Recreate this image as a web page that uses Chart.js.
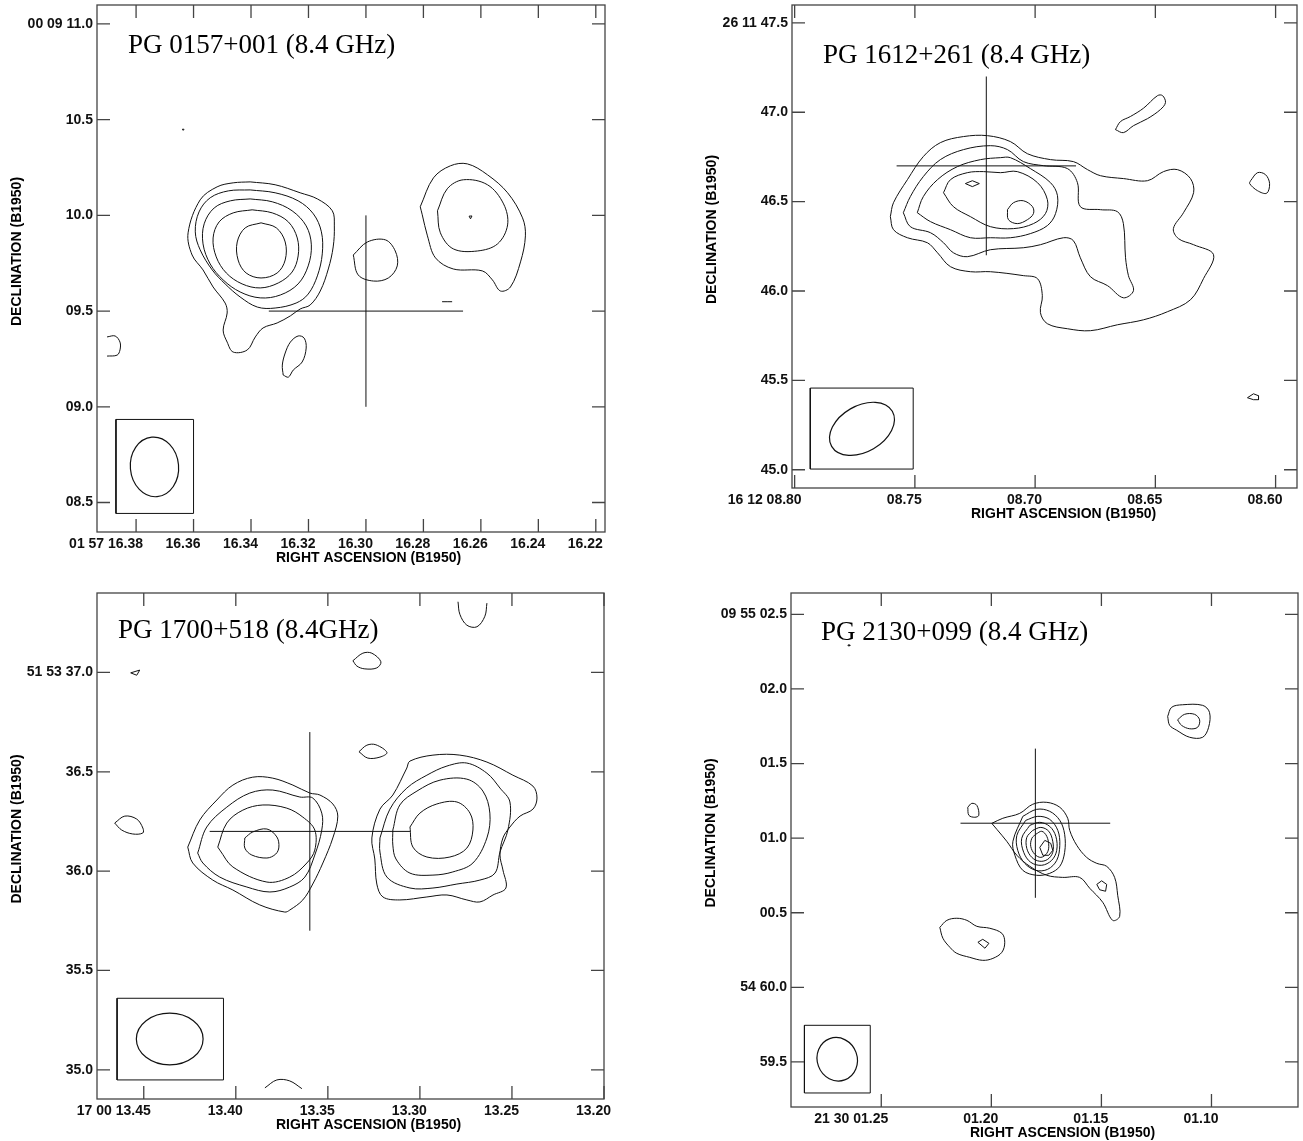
<!DOCTYPE html>
<html>
<head>
<meta charset="utf-8">
<script src="https://cdn.jsdelivr.net/npm/chart.js@4.4.0/dist/chart.umd.min.js"></script>
<style>
  html, body { margin: 0; padding: 0; background: #fff; }
  #wrap { position: relative; width: 1303px; height: 1141px; }
  canvas { position: absolute; }
</style>
</head>
<body>
<div id="wrap">
  <canvas id="c1" width="651" height="570" style="left:0px;top:0px"></canvas>
  <canvas id="c2" width="652" height="570" style="left:651px;top:0px"></canvas>
  <canvas id="c3" width="651" height="571" style="left:0px;top:570px"></canvas>
  <canvas id="c4" width="652" height="571" style="left:651px;top:570px"></canvas>
</div>
<script>
// ---------- PG 0157+001 : RA seconds (01 57 xx) / Dec arcsec (00 09 xx) ----------
const p1XTicks = [16.38, 16.36, 16.34, 16.32, 16.30, 16.28, 16.26, 16.24, 16.22];
const p1XLabels = ["01 57 16.38", "16.36", "16.34", "16.32", "16.30", "16.28", "16.26", "16.24", "16.22"];
const p1YTicks = [11.0, 10.5, 10.0, 9.5, 9.0, 8.5];
const p1YLabels = ["00 09 11.0", "10.5", "10.0", "09.5", "09.0", "08.5"];
const p1Contours = [
  [[16.3403,10.175],[16.3316,10.160],[16.3229,10.118],[16.3169,10.086],[16.3117,10.024],[16.3110,9.945],[16.3114,9.835],[16.3131,9.720],[16.3159,9.605],[16.3194,9.532],[16.3229,9.511],[16.3263,9.475],[16.3309,9.438],[16.3358,9.412],[16.3385,9.365],[16.3413,9.297],[16.3462,9.286],[16.3483,9.338],[16.3497,9.401],[16.3483,9.490],[16.3490,9.542],[16.3532,9.626],[16.3567,9.715],[16.3605,9.793],[16.3619,9.909],[16.3577,10.081],[16.3518,10.149],[16.3462,10.170]],
  [[16.3403,10.133],[16.3316,10.118],[16.3236,10.076],[16.3183,10.008],[16.3155,9.914],[16.3152,9.799],[16.3169,9.684],[16.3201,9.589],[16.3243,9.542],[16.3316,9.516],[16.3378,9.521],[16.3438,9.574],[16.3490,9.642],[16.3535,9.715],[16.3577,9.820],[16.3594,9.914],[16.3581,10.018],[16.3542,10.092],[16.3479,10.128]],
  [[16.3403,10.086],[16.3326,10.071],[16.3257,10.024],[16.3208,9.945],[16.3190,9.846],[16.3201,9.736],[16.3236,9.642],[16.3298,9.584],[16.3368,9.569],[16.3438,9.600],[16.3497,9.663],[16.3542,9.746],[16.3567,9.851],[16.3563,9.956],[16.3528,10.039],[16.3472,10.076]],
  [[16.3396,10.029],[16.3326,10.013],[16.3270,9.966],[16.3239,9.882],[16.3236,9.788],[16.3257,9.704],[16.3305,9.647],[16.3368,9.621],[16.3431,9.642],[16.3486,9.699],[16.3521,9.783],[16.3532,9.882],[16.3511,9.966],[16.3462,10.013]],
  [[16.3365,9.961],[16.3312,9.935],[16.3281,9.861],[16.3281,9.767],[16.3309,9.699],[16.3365,9.673],[16.3417,9.699],[16.3445,9.767],[16.3448,9.861],[16.3420,9.935]],
  [[16.2811,10.045],[16.2765,10.196],[16.2706,10.259],[16.2647,10.269],[16.2577,10.212],[16.2507,10.118],[16.2455,9.987],[16.2445,9.893],[16.2462,9.757],[16.2497,9.626],[16.2532,9.605],[16.2560,9.663],[16.2595,9.710],[16.2696,9.720],[16.2758,9.778],[16.2786,9.893],[16.2804,10.003]],
  [[16.2751,10.024],[16.2717,10.139],[16.2661,10.186],[16.2577,10.160],[16.2521,10.060],[16.2507,9.950],[16.2542,9.851],[16.2612,9.814],[16.2696,9.825],[16.2741,9.909]],
  [[16.3044,9.793],[16.2995,9.861],[16.2932,9.872],[16.2898,9.814],[16.2891,9.736],[16.2922,9.673],[16.2974,9.657],[16.3027,9.689]],
  [[16.3288,9.166],[16.3291,9.218],[16.3281,9.281],[16.3263,9.338],[16.3236,9.370],[16.3215,9.359],[16.3208,9.307],[16.3222,9.234],[16.3253,9.192],[16.3270,9.155]]
];
const p1Specks = [
  [[16.2641,9.996],[16.2631,9.997],[16.2636,9.982]],
  [[16.3639,10.450],[16.3633,10.450],[16.3636,10.444]]
];
const p1Open = [
  [[16.3901,9.365],[16.3873,9.370],[16.3856,9.338],[16.3856,9.297],[16.3866,9.270],[16.3901,9.265]],
  [[16.2735,9.549],[16.2700,9.549]]
];
const p1Optical = [16.300, 9.50];
const p1CrossHalf = [0.0338, 0.5];
const p1Beam = [16.3736, 8.686, 0.156, 0.126, 5];
const p1BeamBox = [16.3870, 16.3600, 8.443, 8.934];

// ---------- PG 1612+261 : RA (16 12 xx) / Dec (26 11 xx) ----------
const p2XTicks = [8.80, 8.75, 8.70, 8.65, 8.60];
const p2XLabels = ["16 12 08.80", "08.75", "08.70", "08.65", "08.60"];
const p2YTicks = [47.5, 47.0, 46.5, 46.0, 45.5, 45.0];
const p2YLabels = ["26 11 47.5", "47.0", "46.5", "46.0", "45.5", "45.0"];
const p2Contours = [
  [[8.7602,46.416],[8.7589,46.494],[8.7531,46.623],[8.7465,46.752],[8.7394,46.830],[8.7298,46.864],[8.7198,46.869],[8.7103,46.836],[8.7032,46.768],[8.6936,46.735],[8.6841,46.724],[8.6782,46.679],[8.6728,46.645],[8.6633,46.629],[8.6533,46.617],[8.6466,46.668],[8.6408,46.679],[8.6354,46.629],[8.6341,46.550],[8.6383,46.438],[8.6425,46.349],[8.6404,46.293],[8.6341,46.259],[8.6258,46.203],[8.6300,46.069],[8.6354,45.951],[8.6450,45.884],[8.6549,45.839],[8.6658,45.811],[8.6770,45.778],[8.6866,45.789],[8.6949,45.817],[8.6978,45.879],[8.6970,45.974],[8.6990,46.069],[8.7049,46.086],[8.7186,46.108],[8.7269,46.108],[8.7352,46.136],[8.7406,46.214],[8.7448,46.270],[8.7531,46.298],[8.7589,46.343]],
  [[8.7548,46.438],[8.7519,46.528],[8.7465,46.640],[8.7394,46.735],[8.7298,46.791],[8.7186,46.813],[8.7115,46.791],[8.7049,46.724],[8.6965,46.701],[8.6866,46.685],[8.6824,46.606],[8.6812,46.472],[8.6728,46.455],[8.6658,46.444],[8.6633,46.377],[8.6624,46.186],[8.6612,46.086],[8.6591,46.002],[8.6633,45.962],[8.6699,46.030],[8.6770,46.080],[8.6812,46.186],[8.6841,46.282],[8.6882,46.298],[8.6978,46.259],[8.7049,46.242],[8.7186,46.231],[8.7282,46.192],[8.7340,46.214],[8.7381,46.270],[8.7435,46.326],[8.7519,46.360]],
  [[8.7490,46.438],[8.7465,46.528],[8.7406,46.623],[8.7323,46.696],[8.7227,46.735],[8.7144,46.746],[8.7103,46.746],[8.7020,46.685],[8.6936,46.606],[8.6907,46.533],[8.6915,46.433],[8.6949,46.366],[8.7020,46.321],[8.7103,46.298],[8.7186,46.298],[8.7269,46.298],[8.7352,46.343],[8.7435,46.388]],
  [[8.7381,46.550],[8.7352,46.623],[8.7282,46.662],[8.7215,46.668],[8.7144,46.662],[8.7074,46.668],[8.6990,46.606],[8.6949,46.511],[8.6957,46.433],[8.7007,46.377],[8.7090,46.349],[8.7186,46.360],[8.7269,46.416],[8.7340,46.472]],
  [[8.7115,46.455],[8.7090,46.494],[8.7049,46.505],[8.7011,46.472],[8.7007,46.433],[8.7032,46.399],[8.7074,46.377],[8.7111,46.399]],
  [[8.6666,46.903],[8.6645,46.948],[8.6604,46.976],[8.6549,47.023],[8.6491,47.093],[8.6470,47.093],[8.6458,47.054],[8.6479,47.015],[8.6533,46.964],[8.6591,46.925],[8.6633,46.886]],
  [[8.6104,46.617],[8.6075,46.662],[8.6042,46.651],[8.6025,46.601],[8.6037,46.547],[8.6075,46.561],[8.6108,46.601]]
];
const p2Specks = [
  [[8.7290,46.601],[8.7261,46.617],[8.7232,46.601],[8.7261,46.584]],
  [[8.6117,45.403],[8.6092,45.425],[8.6071,45.414],[8.6071,45.392],[8.6092,45.392]]
];
const p2Open = [];
const p2Optical = [8.7203, 46.70];
const p2CrossHalf = [0.0373, 0.5];
const p2Beam = [8.7720, 45.229, 0.196, 0.129, -60];
const p2BeamBox = [8.7935, 8.7507, 45.004, 45.457];

// ---------- PG 1700+518 : RA (17 00 xx) / Dec (51 53 xx) ----------
const p3XTicks = [13.45, 13.40, 13.35, 13.30, 13.25, 13.20];
const p3XLabels = ["17 00 13.45", "13.40", "13.35", "13.30", "13.25", "13.20"];
const p3YTicks = [37.0, 36.5, 36.0, 35.5, 35.0];
const p3YLabels = ["51 53 37.0", "36.5", "36.0", "35.5", "35.0"];
const p3Contours = [
  [[13.4261,36.121],[13.4196,36.257],[13.4103,36.358],[13.4016,36.433],[13.3908,36.473],[13.3799,36.468],[13.3690,36.433],[13.3598,36.393],[13.3543,36.383],[13.3473,36.338],[13.3446,36.277],[13.3473,36.167],[13.3527,36.041],[13.3582,35.935],[13.3636,35.855],[13.3707,35.804],[13.3734,35.794],[13.3870,35.830],[13.4016,35.905],[13.4125,35.955],[13.4234,36.041]],
  [[13.4207,36.091],[13.4158,36.222],[13.4049,36.322],[13.3924,36.393],[13.3799,36.408],[13.3652,36.373],[13.3582,36.368],[13.3533,36.292],[13.3533,36.207],[13.3571,36.081],[13.3625,35.970],[13.3707,35.920],[13.3815,35.895],[13.3940,35.920],[13.4087,35.970],[13.4179,36.041]],
  [[13.4098,36.121],[13.4049,36.242],[13.3962,36.307],[13.3853,36.333],[13.3723,36.317],[13.3636,36.272],[13.3571,36.207],[13.3571,36.106],[13.3614,36.041],[13.3707,35.970],[13.3831,35.945],[13.4016,36.021],[13.4087,36.106]],
  [[13.3951,36.167],[13.3908,36.197],[13.3831,36.212],[13.3777,36.172],[13.3766,36.121],[13.3783,36.086],[13.3831,36.066],[13.3913,36.081],[13.3951,36.116]],
  [[13.3071,36.519],[13.3054,36.554],[13.2929,36.584],[13.2783,36.584],[13.2636,36.549],[13.2495,36.483],[13.2386,36.428],[13.2364,36.368],[13.2386,36.312],[13.2456,36.277],[13.2511,36.222],[13.2549,36.167],[13.2565,36.081],[13.2549,36.006],[13.2533,35.915],[13.2603,35.880],[13.2674,35.845],[13.2745,35.855],[13.2853,35.880],[13.2962,35.870],[13.3109,35.855],[13.3201,35.870],[13.3234,35.935],[13.3245,36.061],[13.3261,36.167],[13.3217,36.312],[13.3147,36.383]],
  [[13.3217,36.167],[13.3163,36.312],[13.3071,36.418],[13.2962,36.483],[13.2853,36.529],[13.2745,36.544],[13.2636,36.493],[13.2565,36.418],[13.2511,36.348],[13.2522,36.207],[13.2565,36.096],[13.2592,35.990],[13.2674,35.955],[13.2799,35.935],[13.2929,35.915],[13.3054,35.915],[13.3179,35.970],[13.3217,36.096]],
  [[13.3147,36.207],[13.3109,36.333],[13.3016,36.403],[13.2891,36.458],[13.2745,36.463],[13.2658,36.403],[13.2620,36.292],[13.2636,36.167],[13.2712,36.041],[13.2821,35.996],[13.2929,35.980],[13.3054,35.990],[13.3130,36.061],[13.3147,36.131]],
  [[13.3054,36.222],[13.3000,36.292],[13.2908,36.338],[13.2799,36.348],[13.2728,36.292],[13.2712,36.207],[13.2745,36.116],[13.2837,36.071],[13.2962,36.071],[13.3038,36.121]],
  [[13.3364,37.059],[13.3310,37.097],[13.3261,37.097],[13.3212,37.054],[13.3234,37.023],[13.3299,37.018],[13.3342,37.032]],
  [[13.3331,36.601],[13.3288,36.634],[13.3239,36.636],[13.3179,36.597],[13.3217,36.574],[13.3283,36.569]],
  [[13.4658,36.242],[13.4603,36.277],[13.4538,36.262],[13.4505,36.217],[13.4505,36.192],[13.4560,36.187],[13.4620,36.207]]
];
const p3Specks = [
  [[13.4522,37.012],[13.4571,36.998],[13.4538,36.986]]
];
const p3Open = [
  [[13.2793,37.356],[13.2783,37.293],[13.2745,37.238],[13.2690,37.230],[13.2647,37.283],[13.2636,37.349]],
  [[13.3842,34.909],[13.3777,34.949],[13.3707,34.944],[13.3641,34.905]]
];
const p3Optical = [13.3598, 36.20];
const p3CrossHalf = [0.0544, 0.5];
const p3Beam = [13.4359, 35.155, 0.168, 0.130, 90];
const p3BeamBox = [13.4645, 13.4067, 34.949, 35.360];

// ---------- PG 2130+099 : RA (21 30 xx) / Dec arcsec relative to 09 55 00 ----------
const p4XTicks = [1.25, 1.20, 1.15, 1.10];
const p4XLabels = ["21 30 01.25", "01.20", "01.15", "01.10"];
const p4YTicks = [2.5, 2.0, 1.5, 1.0, 0.5, 0.0, -0.5];
const p4YLabels = ["09 55 02.5", "02.0", "01.5", "01.0", "00.5", "54 60.0", "59.5"];
const p4Contours = [
  [[1.1998,1.099],[1.1948,1.133],[1.1871,1.166],[1.1812,1.227],[1.1748,1.240],[1.1689,1.207],[1.1653,1.133],[1.1644,1.052],[1.1612,0.952],[1.1567,0.871],[1.1521,0.831],[1.1476,0.811],[1.1440,0.737],[1.1426,0.617],[1.1417,0.476],[1.1449,0.449],[1.1494,0.570],[1.1553,0.664],[1.1599,0.737],[1.1676,0.737],[1.1748,0.751],[1.1825,0.811],[1.1884,0.885],[1.1930,0.979],[1.1975,1.059]],
  [[1.1857,1.146],[1.1794,1.193],[1.1735,1.180],[1.1689,1.119],[1.1667,1.026],[1.1667,0.905],[1.1689,0.811],[1.1735,0.764],[1.1794,0.751],[1.1857,0.784],[1.1893,0.885],[1.1902,0.979]],
  [[1.1844,1.119],[1.1789,1.146],[1.1735,1.126],[1.1698,1.052],[1.1689,0.952],[1.1703,0.851],[1.1744,0.791],[1.1798,0.784],[1.1848,0.831],[1.1880,0.918],[1.1884,1.019]],
  [[1.1825,1.086],[1.1780,1.106],[1.1735,1.079],[1.1707,1.012],[1.1703,0.918],[1.1726,0.851],[1.1771,0.818],[1.1821,0.838],[1.1853,0.905],[1.1862,0.999]],
  [[1.1812,1.052],[1.1775,1.072],[1.1739,1.046],[1.1721,0.979],[1.1721,0.905],[1.1744,0.858],[1.1780,0.845],[1.1816,0.871],[1.1839,0.932],[1.1839,1.005]],
  [[1.1798,1.026],[1.1771,1.046],[1.1748,1.012],[1.1739,0.945],[1.1748,0.898],[1.1775,0.871],[1.1803,0.892],[1.1821,0.945],[1.1816,0.999]],
  [[1.1199,1.816],[1.1181,1.877],[1.1131,1.894],[1.1040,1.890],[1.1009,1.843],[1.1013,1.743],[1.1040,1.676],[1.1099,1.676],[1.1158,1.723],[1.1190,1.756]],
  [[1.1154,1.793],[1.1122,1.830],[1.1077,1.830],[1.1054,1.793],[1.1063,1.743],[1.1099,1.733],[1.1136,1.756]],
  [[1.2234,0.402],[1.2202,0.449],[1.2157,0.463],[1.2111,0.449],[1.2066,0.409],[1.2007,0.396],[1.1952,0.362],[1.1939,0.302],[1.1952,0.235],[1.1993,0.194],[1.2039,0.181],[1.2098,0.201],[1.2157,0.228],[1.2188,0.268],[1.2220,0.329]],
  [[1.2107,1.207],[1.2089,1.233],[1.2066,1.220],[1.2057,1.153],[1.2075,1.140],[1.2102,1.153]]
];
const p4Specks = [
  [[1.1757,0.985],[1.1730,0.965],[1.1721,0.918],[1.1739,0.885],[1.1766,0.885],[1.1780,0.938]],
  [[1.2061,0.302],[1.2039,0.322],[1.2011,0.295],[1.2029,0.262]],
  [[1.1521,0.690],[1.1499,0.714],[1.1476,0.690],[1.1481,0.644],[1.1508,0.654]],
  [[1.2651,2.295],[1.2643,2.295],[1.2643,2.289],[1.2651,2.289]]
];
const p4Open = [];
const p4Optical = [1.1800, 1.10];
const p4CrossHalf = [0.0340, 0.5];
const p4Beam = [1.2700, -0.482, 0.147, 0.134, 20];
const p4BeamBox = [1.2849, 1.2550, -0.708, -0.2545];

// ---------- drawing ----------
const SANS = '"Liberation Sans", Arial, Helvetica, sans-serif';
const SERIF = '"Liberation Serif", "Times New Roman", Times, serif';
Chart.defaults.font.family = SANS;

function toPts(arr, close) {
  const d = arr.map(p => ({ x: p[0], y: p[1] }));
  if (close) d.push({ x: arr[0][0], y: arr[0][1] });
  return d;
}

function lineSet(pts, tension) {
  return {
    data: pts, showLine: true, pointRadius: 0, borderColor: "#111",
    borderWidth: 1, tension: tension, fill: false
  };
}

function makePanel(id, p) {
  const canvas = document.getElementById(id);
  const W = canvas.width, H = canvas.height;
  const datasets = [];
  p.contours.forEach(c => datasets.push(lineSet(toPts(c, true), 0.35)));
  p.specks.forEach(c => datasets.push(lineSet(toPts(c, true), 0)));
  p.open.forEach(c => datasets.push(lineSet(toPts(c, false), 0.35)));
  // optical position cross
  const o = p.optical, h = p.cross;
  datasets.push(lineSet(toPts([[o[0], o[1] - h[1]], [o[0], o[1] + h[1]]], false), 0));
  datasets.push(lineSet(toPts([[o[0] + h[0], o[1]], [o[0] - h[0], o[1]]], false), 0));
  // beam box
  const b = p.beamBox;
  datasets.push(lineSet(toPts([[b[0], b[2]], [b[1], b[2]], [b[1], b[3]], [b[0], b[3]]], true), 0));

  const decor = {
    id: "decor" + id,
    afterDatasetsDraw(chart) {
      const ctx = chart.ctx, xs = chart.scales.x, ys = chart.scales.y;
      const bm = p.beam;
      const cx = xs.getPixelForValue(bm[0]), cy = ys.getPixelForValue(bm[1]);
      const ppa = Math.abs(ys.getPixelForValue(bm[1] + 1) - cy);
      const pa = bm[4] * Math.PI / 180;
      ctx.save();
      ctx.strokeStyle = "#111";
      ctx.lineWidth = 1.2;
      ctx.beginPath();
      ctx.ellipse(cx, cy, bm[2] * ppa, bm[3] * ppa, Math.atan2(-Math.cos(pa), -Math.sin(pa)), 0, 2 * Math.PI);
      ctx.stroke();
      ctx.restore();
    },
    afterDraw(chart) {
      const ctx = chart.ctx, a = chart.chartArea;
      const xs = chart.scales.x, ys = chart.scales.y;
      ctx.save();
      ctx.strokeStyle = "#444";
      ctx.lineWidth = 1.3;
      ctx.strokeRect(a.left, a.top, a.right - a.left, a.bottom - a.top);
      ctx.beginPath();
      xs.ticks.forEach(t => {
        const x = xs.getPixelForValue(t.value);
        ctx.moveTo(x, a.bottom); ctx.lineTo(x, a.bottom - 13);
        ctx.moveTo(x, a.top); ctx.lineTo(x, a.top + 13);
      });
      ys.ticks.forEach(t => {
        const y = ys.getPixelForValue(t.value);
        ctx.moveTo(a.left, y); ctx.lineTo(a.left + 13, y);
        ctx.moveTo(a.right, y); ctx.lineTo(a.right - 13, y);
      });
      ctx.stroke();

      ctx.fillStyle = "#000";
      ctx.font = "27px " + SERIF;
      ctx.textAlign = "left";
      ctx.textBaseline = "alphabetic";
      ctx.fillText(p.title, p.titleAt[0], p.titleAt[1]);

      ctx.font = "bold 14px " + SANS;
      ctx.textBaseline = "middle";
      ctx.fillText("RIGHT ASCENSION (B1950)", a.left + 179, a.bottom + 26);
      ctx.translate(a.left - 80, (a.top + a.bottom) / 2 - 17);
      ctx.rotate(-Math.PI / 2);
      ctx.textAlign = "center";
      ctx.fillText("DECLINATION (B1950)", 0, 0);
      ctx.restore();
    }
  };

  const tickFont = { family: SANS, size: 14, weight: "bold" };
  new Chart(canvas, {
    type: "scatter",
    data: { datasets },
    options: {
      responsive: false,
      animation: false,
      events: [],
      layout: { autoPadding: false, padding: { left: 0, top: p.area[1], right: W - p.area[2], bottom: 0 } },
      plugins: { legend: { display: false }, tooltip: { enabled: false } },
      scales: {
        x: {
          type: "linear", reverse: true, bounds: "data",
          min: p.xRange[0], max: p.xRange[1],
          grid: { display: false, drawTicks: false }, border: { display: false },
          afterBuildTicks: s => { s.ticks = p.xTicks.map(v => ({ value: v })); },
          afterFit: s => { s.height = H - p.area[3]; s.paddingLeft = 0; s.paddingRight = 0; },
          ticks: {
            autoSkip: false, maxRotation: 0, align: "end", labelOffset: 7, padding: 4,
            color: "#111", font: tickFont,
            callback: (v, i) => p.xLabels[i]
          }
        },
        y: {
          type: "linear", bounds: "data",
          min: p.yRange[0], max: p.yRange[1],
          grid: { display: false, drawTicks: false }, border: { display: false },
          afterBuildTicks: s => { s.ticks = p.yTicks.map(v => ({ value: v })); },
          afterFit: s => { s.width = p.area[0]; s.paddingTop = 0; s.paddingBottom = 0; },
          ticks: {
            autoSkip: false, padding: 4, color: "#111", font: tickFont,
            callback: (v, i) => p.yLabels[i]
          }
        }
      }
    },
    plugins: [decor]
  });
}

makePanel("c1", {
  area: [97, 5, 605, 532], xRange: [16.2168, 16.3936], yRange: [8.346, 11.099],
  xTicks: p1XTicks, xLabels: p1XLabels, yTicks: p1YTicks, yLabels: p1YLabels,
  contours: p1Contours, specks: p1Specks, open: p1Open,
  optical: p1Optical, cross: p1CrossHalf, beam: p1Beam, beamBox: p1BeamBox,
  title: "PG 0157+001 (8.4 GHz)", titleAt: [128, 53]
});
makePanel("c2", {
  area: [141, 5, 646, 488], xRange: [8.5911, 8.8011], yRange: [44.898, 47.600],
  xTicks: p2XTicks, xLabels: p2XLabels, yTicks: p2YTicks, yLabels: p2YLabels,
  contours: p2Contours, specks: p2Specks, open: p2Open,
  optical: p2Optical, cross: p2CrossHalf, beam: p2Beam, beamBox: p2BeamBox,
  title: "PG 1612+261 (8.4 GHz)", titleAt: [172, 63]
});
makePanel("c3", {
  area: [97, 23, 604, 529], xRange: [13.20, 13.4754], yRange: [34.853, 37.400],
  xTicks: p3XTicks, xLabels: p3XLabels, yTicks: p3YTicks, yLabels: p3YLabels,
  contours: p3Contours, specks: p3Specks, open: p3Open,
  optical: p3Optical, cross: p3CrossHalf, beam: p3Beam, beamBox: p3BeamBox,
  title: "PG 1700+518 (8.4GHz)", titleAt: [118, 68]
});
makePanel("c4", {
  area: [140, 23, 647, 537], xRange: [1.0607, 1.2910], yRange: [-0.802, 2.643],
  xTicks: p4XTicks, xLabels: p4XLabels, yTicks: p4YTicks, yLabels: p4YLabels,
  contours: p4Contours, specks: p4Specks, open: p4Open,
  optical: p4Optical, cross: p4CrossHalf, beam: p4Beam, beamBox: p4BeamBox,
  title: "PG 2130+099 (8.4 GHz)", titleAt: [170, 70]
});
</script>
</body>
</html>
